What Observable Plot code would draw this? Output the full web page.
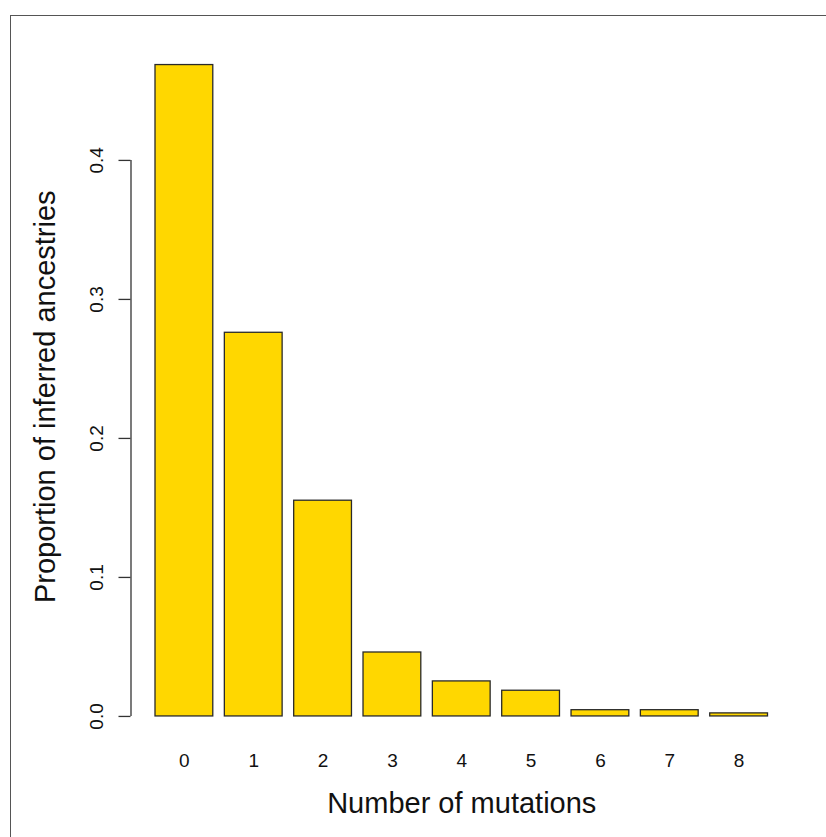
<!DOCTYPE html>
<html>
<head>
<meta charset="utf-8">
<script src="https://cdn.jsdelivr.net/npm/d3@7"></script>
<script src="https://cdn.jsdelivr.net/npm/@observablehq/plot@0.6"></script>
<style>
  html, body { margin: 0; padding: 0; background: #fff; }
  #wrap { position: relative; width: 826px; height: 837px; overflow: hidden; }
  #frame { position: absolute; left: 10px; top: 15px; right: 0; bottom: 0;
           border-top: 1.2px solid #555; border-left: 1.2px solid #555; pointer-events: none; }
  #chart { position: absolute; left: 0; top: 0; }
  svg { font-family: "Liberation Sans", Arial, Helvetica, sans-serif; }
</style>
</head>
<body>
<div id="wrap"><div id="chart"></div><div id="frame"></div></div>
<script>
const categories = ["0", "1", "2", "3", "4", "5", "6", "7", "8"];
const proportions = [0.4686, 0.2760, 0.1552, 0.0460, 0.0252, 0.0185, 0.0045, 0.0045, 0.0022];
const yTicks = [0, 0.1, 0.2, 0.3, 0.4];
const yTickLabels = ["0.0", "0.1", "0.2", "0.3", "0.4"];
const xTitle = "Number of mutations";
const yTitle = "Proportion of inferred ancestries";

// R barplot layout: bar width 1, space 0.2
const barWidth = 1, space = 0.2;
const data = categories.map((c, i) => {
  const x1 = space + i * (barWidth + space);
  return {c, v: proportions[i], x1, x2: x1 + barWidth, xm: x1 + barWidth / 2};
});
const xlo = d3.min(data, d => d.x1), xhi = d3.max(data, d => d.x2);
const xext = (xhi - xlo) * 0.04;
const xDomain = [xlo - xext, xhi + xext];
const ymax = d3.max(proportions);
const yext = ymax * 0.04;
const yDomain = [0 - yext, ymax + yext];

const chart = Plot.plot({
  width: 826,
  height: 837,
  marginLeft: 130.5,
  marginRight: 34,
  marginTop: 38.5,
  marginBottom: 95,
  x: {domain: xDomain, axis: null},
  y: {domain: yDomain, axis: null},
  style: {background: "transparent", fontFamily: "'Liberation Sans', Arial, Helvetica, sans-serif"},
  marks: [
    Plot.rect(data, {x1: "x1", x2: "x2", y1: 0, y2: "v", fill: "#FFD700", stroke: "#2a2a2a", strokeWidth: 1.3}),
    // y axis line (R style: spans tick range only)
    Plot.ruleX([xDomain[0]], {y1: yTicks[0], y2: yTicks[yTicks.length - 1], stroke: "#333", strokeWidth: 1.3}),
    Plot.axisY({ticks: yTicks, tickSize: 12, tickFormat: () => "", label: null, stroke: "#333", strokeWidth: 1.3, strokeOpacity: 1}),
    Plot.text(yTicks, {x: xDomain[0], y: d => d, text: (d, i) => yTickLabels[i], rotate: -90, dx: -34,
      fontSize: 19, textAnchor: "middle", lineAnchor: "middle", fill: "#111"}),
    Plot.text(data, {x: "xm", text: "c", frameAnchor: "bottom", dy: 18, fontSize: 19,
      textAnchor: "middle", lineAnchor: "middle", fill: "#111"}),
    Plot.text([xTitle], {frameAnchor: "bottom", dy: 61, fontSize: 29, textAnchor: "middle", lineAnchor: "middle", fill: "#111"}),
    Plot.text([yTitle], {frameAnchor: "left", dx: -85, dy: 6, rotate: -90, fontSize: 29, textAnchor: "middle", lineAnchor: "middle", fill: "#111"})
  ]
});
document.getElementById("chart").appendChild(chart);
</script>
</body>
</html>
